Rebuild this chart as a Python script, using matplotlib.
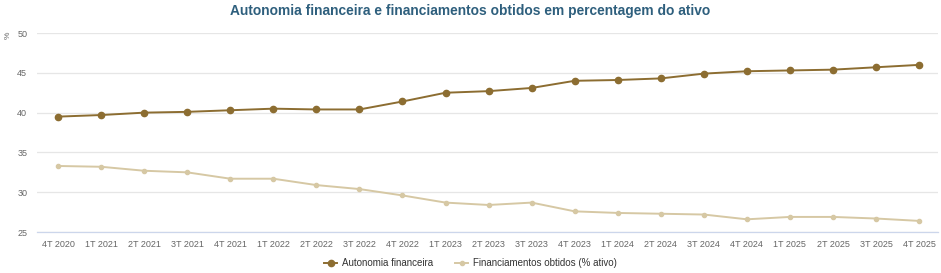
import matplotlib
matplotlib.use("Agg")
import matplotlib.pyplot as plt

plt.rcParams['font.family'] = ['Liberation Sans', 'DejaVu Sans']

# trimestres
quarters = ['4T 2020', '1T 2021', '2T 2021', '3T 2021', '4T 2021', '1T 2022', '2T 2022',
            '3T 2022', '4T 2022', '1T 2023', '2T 2023', '3T 2023', '4T 2023', '1T 2024',
            '2T 2024', '3T 2024', '4T 2024', '1T 2025', '2T 2025', '3T 2025', '4T 2025']
autonomia = [39.5, 39.7, 40.0, 40.1, 40.3, 40.5, 40.4, 40.4, 41.4, 42.5, 42.7,
             43.1, 44.0, 44.1, 44.3, 44.9, 45.2, 45.3, 45.4, 45.7, 46.0]
financiamentos = [33.3, 33.2, 32.7, 32.5, 31.7, 31.7, 30.9, 30.4, 29.6, 28.7, 28.4,
                  28.7, 27.6, 27.4, 27.3, 27.2, 26.6, 26.9, 26.9, 26.7, 26.4]
yticks = [25, 30, 35, 40, 45, 50]

c_auto = '#8c6d31'
c_fin = '#d6c8a4'

fig = plt.figure(figsize=(9.41, 2.73), dpi=100)
ax = fig.add_axes([0.0393, 0.150, 0.958, 0.729])

x = list(range(len(quarters)))
ax.plot(x, financiamentos, color=c_fin, lw=1.4, marker='o', ms=3.0,
        label='Financiamentos obtidos (% ativo)', zorder=3)
ax.plot(x, autonomia, color=c_auto, lw=1.4, marker='o', ms=4.5,
        label='Autonomia financeira', zorder=4)

ax.set_xlim(-0.49, len(quarters) - 0.55)
ax.set_ylim(25, 50)
ax.set_yticks(yticks)
ax.set_xticks(x)
ax.set_xticklabels(quarters)
ax.tick_params(axis='both', length=0, labelsize=6.5, colors='#666666')
ax.tick_params(axis='x', pad=6)
ax.tick_params(axis='y', pad=7)
ax.grid(axis='y', color='#e6e6e6', lw=0.9)
ax.set_axisbelow(True)
for s in ['top', 'right', 'left']:
    ax.spines[s].set_visible(False)
ax.spines['bottom'].set_color('#ccd6eb')
ax.spines['bottom'].set_linewidth(0.9)

fig.text(0.0085, 0.872, '%', rotation=90, fontsize=6, color='#666666',
         ha='center', va='center')

fig.suptitle('Autonomia financeira e financiamentos obtidos em percentagem do ativo',
             x=0.5, y=0.985, fontsize=9.9, fontweight='bold', color='#2e5f7d')

h, l = ax.get_legend_handles_labels()
fig.legend(h[::-1], l[::-1], loc='lower center', bbox_to_anchor=(0.5, -0.015), ncol=2,
           frameon=False, fontsize=7, handlelength=1.4, columnspacing=2.2,
           labelcolor='#333333', handletextpad=0.5)

fig.savefig('out.png', dpi=100, facecolor='white')
